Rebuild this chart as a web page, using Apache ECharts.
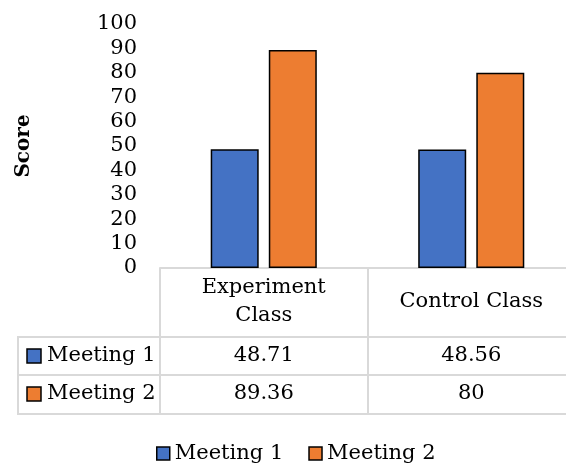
<!DOCTYPE html>
<html>
<head>
<meta charset="utf-8">
<script src="https://cdn.jsdelivr.net/npm/echarts@6/dist/echarts.min.js"></script>
<style>html,body{margin:0;padding:0;background:#fff}#c{width:566px;height:463px}</style>
</head>
<body>
<div id="c"></div>
<script>
var categories = ['Experiment\nClass', 'Control Class'];
var seriesNames = ['Meeting 1', 'Meeting 2'];
var meeting1 = [48.71, 48.56];
var meeting2 = [89.36, 80];
var yTicks = [0, 100, 10];
var colors = ['#4472C4', '#ED7D31'];

var FONT = 'DejaVu Serif';
var GRID = '#d9d9d9';
var chart = echarts.init(document.getElementById('c'));

function valueAxis(idx, vals, offset) {
  return {
    type: 'category',
    data: vals.map(function (v) { return String(v); }),
    position: 'bottom',
    offset: offset,
    axisLine: { show: true, lineStyle: { color: GRID, width: 2 } },
    axisTick: { show: false },
    axisLabel: { show: vals.length > 0, interval: 0, margin: 19, verticalAlign: 'middle',
      fontFamily: FONT, fontSize: 21, color: '#000' },
    splitLine: { show: false }
  };
}

var rowLabelGraphics = [];
var rowTops = [337, 375];
seriesNames.forEach(function (n, i) {
  var cy = rowTops[i] + 19;
  rowLabelGraphics.push({ type: 'rect', shape: { x: 27, y: cy - 7, width: 14, height: 14 },
    style: { fill: colors[i], stroke: '#000', lineWidth: 1.5 } });
  rowLabelGraphics.push({ type: 'text', x: 47, y: cy,
    style: { text: n, font: '21px "' + FONT + '"', fill: '#000', textVerticalAlign: 'middle', verticalAlign: 'middle' } });
});
[337, 375, 414].forEach(function (y) {
  rowLabelGraphics.push({ type: 'line', shape: { x1: 17, y1: y, x2: 160, y2: y }, style: { stroke: GRID, lineWidth: 2 } });
});
rowLabelGraphics.push({ type: 'line', shape: { x1: 18, y1: 336, x2: 18, y2: 415 }, style: { stroke: GRID, lineWidth: 2 } });

chart.setOption({
  animation: false,
  grid: { left: 160, top: 24, width: 415, height: 244, containLabel: false, outerBoundsMode: 'none' },
  legend: {
    data: seriesNames, left: 151, top: 438, icon: 'rect', itemWidth: 13, itemHeight: 13, itemGap: 25,
    textStyle: { fontFamily: FONT, fontSize: 21, color: '#000' },
    itemStyle: { borderColor: '#000', borderWidth: 1.5 }
  },
  xAxis: [
    {
      type: 'category', data: categories, position: 'bottom',
      axisLine: { show: true, lineStyle: { color: GRID, width: 2 } },
      axisTick: { show: true, interval: 0, length: 146, lineStyle: { color: GRID, width: 2 } },
      axisLabel: { interval: 0, margin: 34, verticalAlign: 'middle', lineHeight: 28,
        fontFamily: FONT, fontSize: 21, color: '#000' }
    },
    valueAxis(1, meeting1, 69),
    valueAxis(2, meeting2, 107),
    valueAxis(3, [], 146)
  ],
  yAxis: {
    type: 'value', min: yTicks[0], max: yTicks[1], interval: yTicks[2],
    name: 'Score', nameLocation: 'middle', nameGap: 126, nameRotate: 90,
    nameTextStyle: { fontFamily: FONT, fontSize: 20, fontWeight: 'bold', color: '#000' },
    axisLine: { show: false }, axisTick: { show: false }, splitLine: { show: false },
    axisLabel: { margin: 23, fontFamily: FONT, fontSize: 21, color: '#000' }
  },
  series: [
    { name: seriesNames[0], type: 'bar', data: meeting1, barWidth: 48, barGap: '21%',
      itemStyle: { color: colors[0], borderColor: '#000', borderWidth: 1.5 } },
    { name: seriesNames[1], type: 'bar', data: meeting2, barWidth: 48, barGap: '21%',
      itemStyle: { color: colors[1], borderColor: '#000', borderWidth: 1.5 } }
  ],
  graphic: rowLabelGraphics
});
</script>
</body>
</html>
